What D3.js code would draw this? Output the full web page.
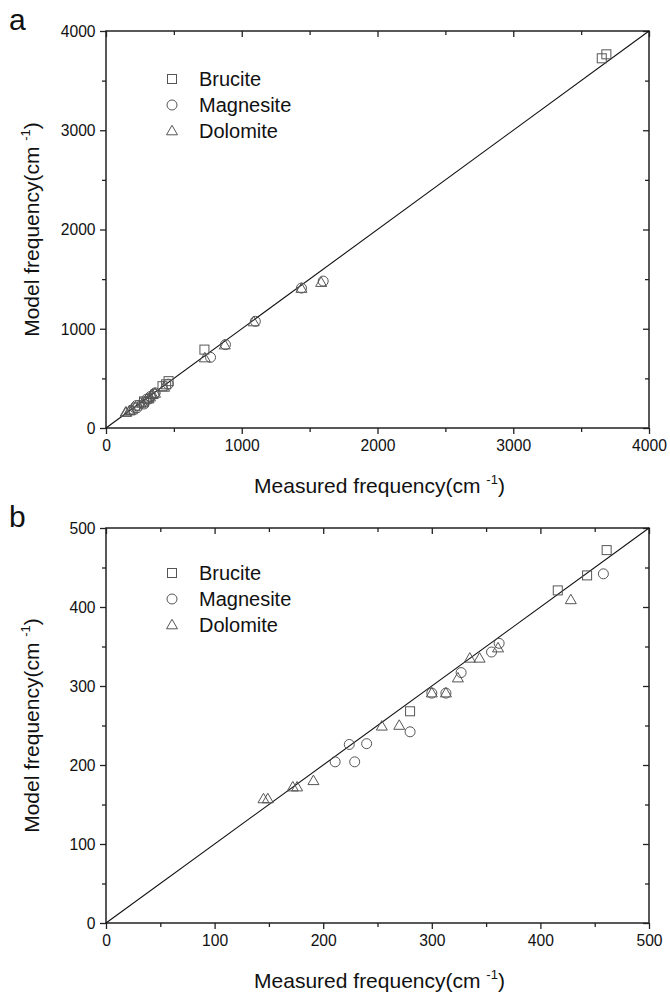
<!DOCTYPE html>
<html>
<head>
<meta charset="utf-8">
<script src="https://cdn.jsdelivr.net/npm/d3@7"></script>
<style>
  html, body { margin: 0; padding: 0; background: #fff; }
  svg { display: block; font-family: "Liberation Sans", Arial, sans-serif; }
</style>
</head>
<body>
<svg id="chart" width="670" height="992"></svg>
<script>
// Measured vs. model vibrational frequencies (cm^-1)
const brucite = [
  [280, 268], [416, 421], [443, 440], [461, 472],
  [725, 790], [3652, 3725], [3686, 3765]
];
const magnesite = [
  [211, 204], [224, 226], [229, 204], [240, 227], [280, 242],
  [300, 291], [313, 291], [327, 317], [355, 343], [362, 354], [458, 442],
  [770, 712], [880, 840], [1100, 1075], [1440, 1410], [1600, 1480]
];
const dolomite = [
  [145, 157], [149, 157], [172, 172], [176, 172], [191, 180],
  [254, 249], [270, 250], [300, 291], [313, 291], [324, 310],
  [335, 335], [344, 335], [361, 348], [428, 409],
  [728, 705], [875, 835], [1088, 1068], [1440, 1405], [1585, 1465]
];
const seriesNames = ["Brucite", "Magnesite", "Dolomite"];
const seriesShapes = ["square", "circle", "triangle"];

const panelLetters = ["a", "b"];
const panelMax = [4000, 500];
const majorTicksA = [0, 1000, 2000, 3000, 4000];
const minorTicksA = [500, 1500, 2500, 3500];
const majorTicksB = [0, 100, 200, 300, 400, 500];
const minorTicksB = [50, 150, 250, 350, 450];

const svg = d3.select("#chart");
const allSeries = [brucite, magnesite, dolomite];

const panels = [
  { letter: panelLetters[0], max: panelMax[0], major: majorTicksA, minor: minorTicksA,
    left: 106, right: 649, top: 31, bottom: 428, legendY: 79 },
  { letter: panelLetters[1], max: panelMax[1], major: majorTicksB, minor: minorTicksB,
    left: 106, right: 649, top: 528, bottom: 923, legendY: 573 }
];

function marker(g, shape, x, y) {
  const stroke = "#555", sw = 1;
  if (shape === "square") {
    g.append("rect").attr("x", x - 4.5).attr("y", y - 4.5).attr("width", 9).attr("height", 9)
      .attr("fill", "none").attr("stroke", stroke).attr("stroke-width", sw);
  } else if (shape === "circle") {
    g.append("circle").attr("cx", x).attr("cy", y).attr("r", 5)
      .attr("fill", "none").attr("stroke", stroke).attr("stroke-width", sw);
  } else {
    const s = 11, h = 9.5;
    g.append("path")
      .attr("d", `M${x},${y - h * 0.6}L${x + s / 2},${y + h * 0.4}L${x - s / 2},${y + h * 0.4}Z`)
      .attr("fill", "none").attr("stroke", stroke).attr("stroke-width", sw);
  }
}

panels.forEach(p => {
  const x = d3.scaleLinear().domain([0, p.max]).range([p.left, p.right]);
  const y = d3.scaleLinear().domain([0, p.max]).range([p.bottom, p.top]);
  const g = svg.append("g");

  // ticks: outward on left/bottom, inward on top/right
  const axes = [
    [d3.axisBottom(x), `translate(0,${p.bottom})`, true],
    [d3.axisTop(x), `translate(0,${p.top})`, false],
    [d3.axisLeft(y), `translate(${p.left},0)`, true],
    [d3.axisRight(y), `translate(${p.right},0)`, false]
  ];
  axes.forEach(([ax, tr, labelled], i) => {
    const inward = i === 1 || i === 3;
    const maj = g.append("g").attr("transform", tr)
      .call(ax.tickValues(p.major).tickSizeOuter(0).tickSizeInner(inward ? -6 : 6)
        .tickPadding(5).tickFormat(labelled ? d3.format("d") : ""));
    maj.select(".domain").remove();
    maj.selectAll("line").attr("stroke", "#222").attr("stroke-width", 1.3);
    maj.selectAll("text").attr("font-size", 16.5).attr("fill", "#111")
      .attr("transform", "scale(0.95,1)");
    const axMinor = [d3.axisBottom, d3.axisTop, d3.axisLeft, d3.axisRight][i](i < 2 ? x : y);
    const mn = g.append("g").attr("transform", tr)
      .call(axMinor.tickValues(p.minor).tickSizeOuter(0).tickSizeInner(inward ? -4 : 4).tickFormat(""));
    mn.select(".domain").remove();
    mn.selectAll("line").attr("stroke", "#222").attr("stroke-width", 1.3);
  });

  // frame
  g.append("rect").attr("x", p.left).attr("y", p.top)
    .attr("width", p.right - p.left).attr("height", p.bottom - p.top)
    .attr("fill", "none").attr("stroke", "#222").attr("stroke-width", 1.5);

  // 1:1 line
  g.append("line")
    .attr("x1", x(0)).attr("y1", y(0)).attr("x2", x(p.max)).attr("y2", y(p.max))
    .attr("stroke", "#111").attr("stroke-width", 1.1);

  // data
  const pts = g.append("g");
  allSeries.forEach((s, si) => {
    s.filter(d => d[0] <= p.max && d[1] <= p.max)
      .forEach(d => marker(pts, seriesShapes[si], x(d[0]), y(d[1])));
  });

  // legend
  seriesNames.forEach((name, i) => {
    const ly = p.legendY + i * 26;
    marker(g, seriesShapes[i], 172, ly);
    g.append("text").attr("x", 199).attr("y", ly + 7)
      .attr("font-size", 20).attr("fill", "#111").text(name);
  });

  // panel letter
  g.append("text").attr("x", 9).attr("y", p.top - 1)
    .attr("font-size", 30).attr("fill", "#111").text(p.letter);

  // axis titles
  const xt = g.append("text").attr("x", (p.left + p.right) / 2 + 2).attr("y", p.bottom + 65)
    .attr("text-anchor", "middle").attr("font-size", 21).attr("fill", "#111");
  xt.append("tspan").text("Measured frequency(cm ");
  xt.append("tspan").attr("dy", -9).attr("font-size", 13).text("-1");
  xt.append("tspan").attr("dy", 9).text(")");

  const yt = g.append("text")
    .attr("transform", `translate(39,${(p.top + p.bottom) / 2}) rotate(-90)`)
    .attr("text-anchor", "middle").attr("font-size", 21).attr("fill", "#111");
  yt.append("tspan").text("Model frequency(cm ");
  yt.append("tspan").attr("dy", -9).attr("font-size", 13).text("-1");
  yt.append("tspan").attr("dy", 9).text(")");
});
</script>
</body>
</html>
